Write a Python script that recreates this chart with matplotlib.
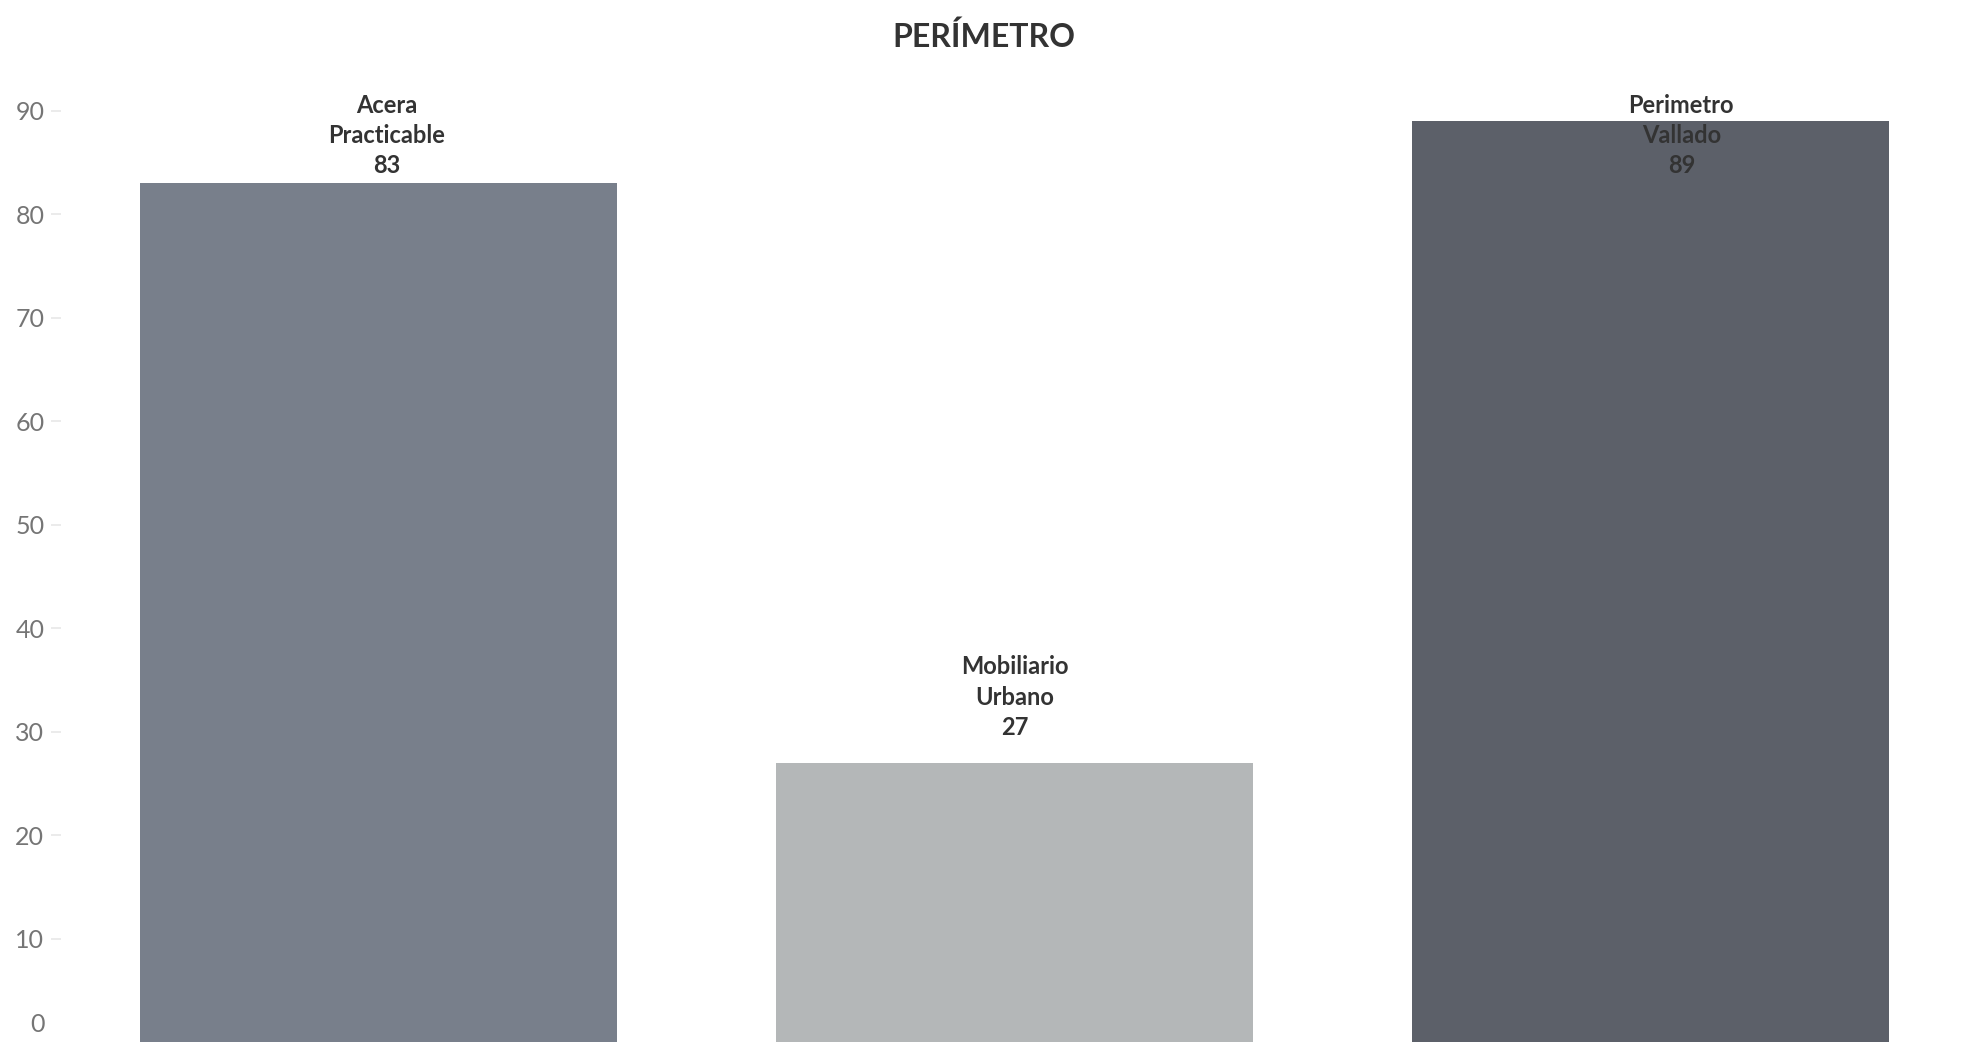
import matplotlib.pyplot as plt
import matplotlib.transforms as mtransforms

# data
categories = ['Acera\nPracticable', 'Mobiliario\nUrbano', 'Perimetro\nVallado']
values = [83, 27, 89]
bar_colors = ['#787F8B', '#B4B7B8', '#5C6069']
y_ticks = [0, 10, 20, 30, 40, 50, 60, 70, 80, 90]
label_shift = [0.012, 0.0, 0.049]   # tableau puts the labels a bit off centre

plt.rcParams['font.family'] = ['Lato', 'DejaVu Sans']

def main():
	fig = plt.figure(figsize=(19.68, 10.42), dpi=100)
	ax = fig.add_axes([61 / 1968, 0, 1 - 61 / 1968, 1])

	x = range(len(values))
	ax.bar(x, values, width=0.75, color=bar_colors, zorder=2)
	ax.set_xlim(-0.5, 2.5)
	ax.set_ylim(0, 100.7)

	# labels over the bars, kept inside the pane like tableau does
	for i, (cat, v) in enumerate(zip(categories, values)):
		y = min(v + 2.3, 83.6)
		ax.text(i + label_shift[i], y, cat + '\n' + str(v), ha='center', va='bottom',
				fontsize=17, fontweight='bold', color='#333333',
				linespacing=1.38, zorder=3)

	for s in ax.spines.values():
		s.set_visible(False)
	ax.set_xticks([])
	ax.set_yticks(y_ticks)
	ax.tick_params(axis='y', length=7, width=1.2, color='#e8e8e8',
				   labelsize=18, labelcolor='#757575', pad=5)
	ax.yaxis.get_major_ticks()[0].tick1line.set_visible(False)
	# bottom label gets pushed up so it is not cut off
	first = ax.get_yticklabels()[0]
	first.set_verticalalignment('bottom')
	first.set_transform(first.get_transform() +
						mtransforms.ScaledTranslation(0, 6 / 100, fig.dpi_scale_trans))

	fig.text(0.5, 1 - 37 / 1042, 'PERÍMETRO', ha='center', va='center',
			 fontsize=23, fontweight='bold', color='#333333')

	fig.savefig('out.png', dpi=100)

if __name__ == "__main__":
	main()
